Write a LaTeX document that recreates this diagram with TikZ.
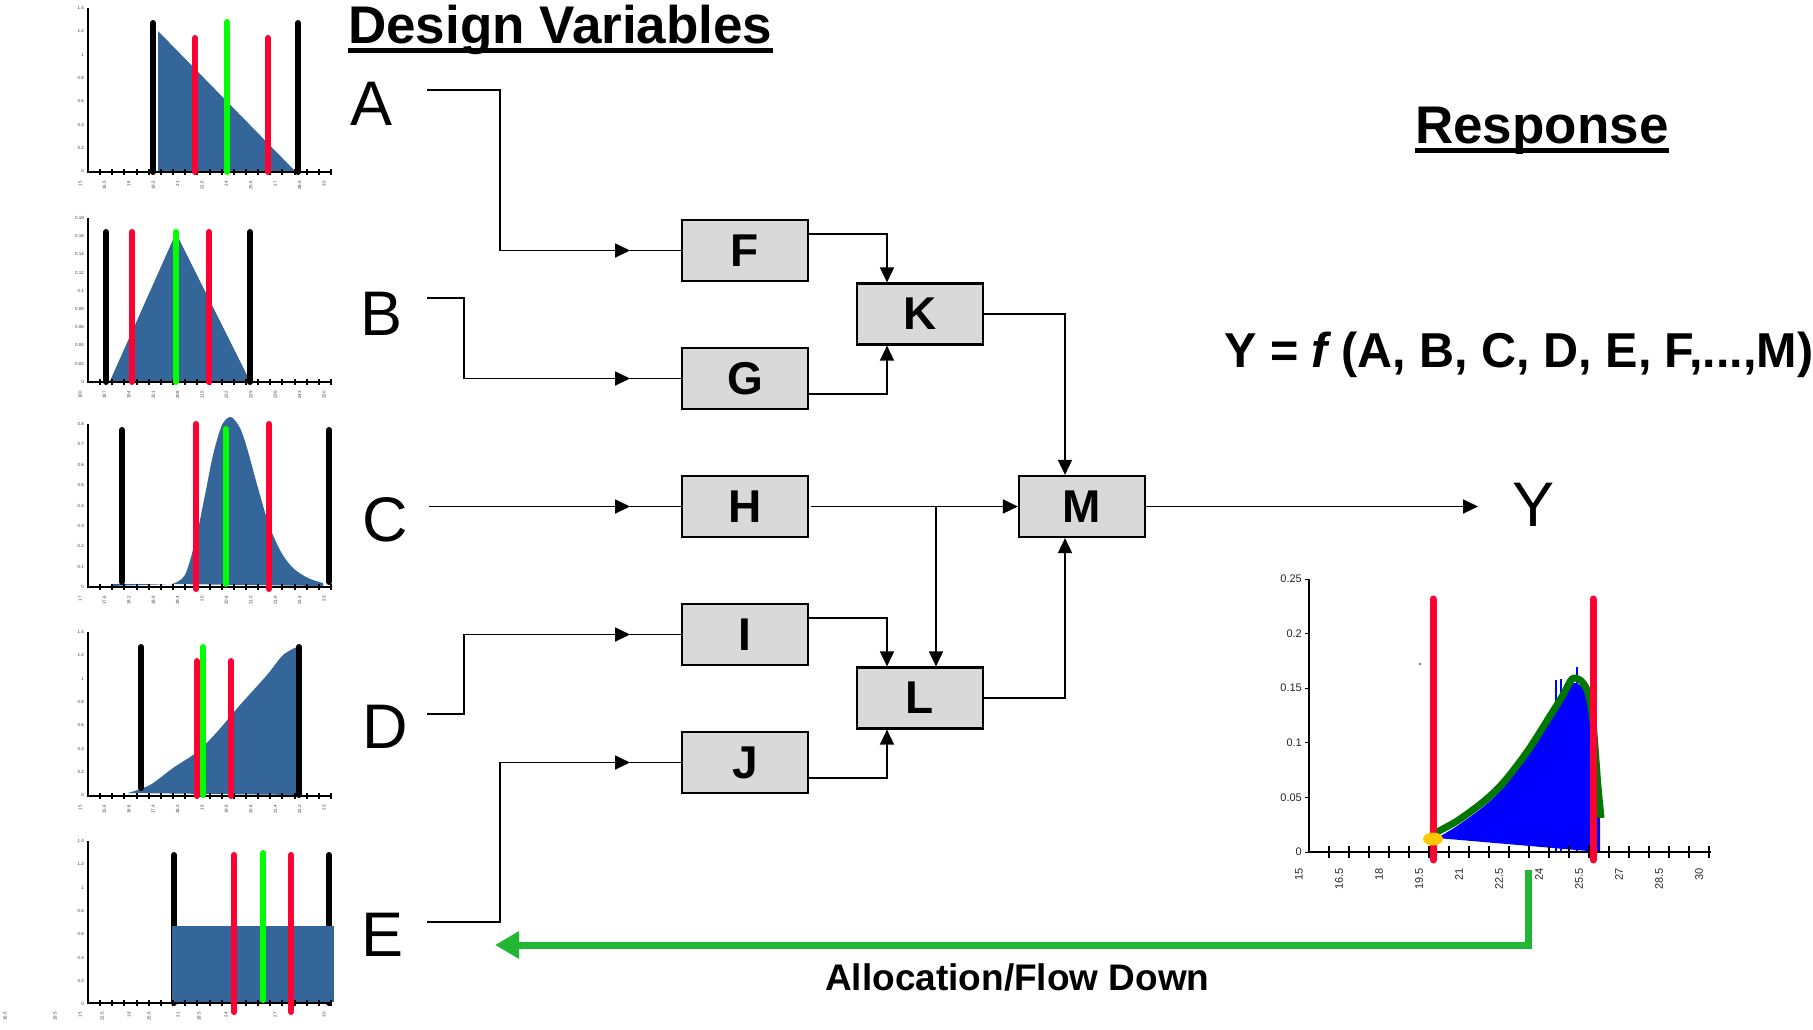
\documentclass[tikz,border=0pt]{standalone}
\usepackage{fontspec}
\setmainfont{Liberation Sans}
\usetikzlibrary{arrows.meta}
\definecolor{boxgray}{RGB}{217,217,217}
\definecolor{distblue}{RGB}{52,102,153}
\definecolor{tolred}{RGB}{255,0,51}
\definecolor{nomgreen}{RGB}{0,255,0}
\definecolor{flowgreen}{RGB}{33,183,51}
\definecolor{fitgreen}{RGB}{0,120,0}
\definecolor{histblue}{RGB}{0,0,255}
\definecolor{markyellow}{RGB}{255,200,0}
\newcommand{\fs}[1]{\fontsize{#1}{#1}\selectfont}
\newcommand{\smallaxes}[5]{%
  \draw[axisline] (88,#2) -- (88,#1) -- (331,#1);
  \foreach \i in {1,...,20} \draw[tickmark] ({88+12.15*\i},{#1-3}) -- ({88+12.15*\i},{#1+3});
  \foreach \lab [count=\j from 0] in {#3} \node[tinylab,anchor=east] at (84,{#2+\j*#4}) {\lab};
  \foreach \lab [count=\j from 0] in {#5} \node[tinylab,rotate=90,anchor=east] at ({80+24.4*\j},{#1+9}) {\lab};
}
\begin{document}
\begin{tikzpicture}[x=1pt,y=-1pt,
  block/.style={draw, line width=2.2pt, fill=boxgray, minimum width=126pt, minimum height=61pt, inner sep=0pt, font=\fs{46}\bfseries},
  varlab/.style={font=\fs{63}, inner sep=0pt, anchor=base west},
  conn/.style={line width=1.8pt},
  arr/.style={conn, -{Triangle[length=15pt,width=14pt]}},
  flow/.style={line width=7pt, draw=flowgreen, -{Triangle[length=24pt,width=26pt,fill=flowgreen]}},
  bar/.style={line width=6pt, line cap=round},
  tickmark/.style={line width=2pt},
  axisline/.style={line width=2.2pt},
  tinylab/.style={font=\fs{4.5}, inner sep=0pt, text=black!75},
  resplab/.style={font=\fs{11}, inner sep=0pt, text=black!85}
]
\useasboundingbox (0,0) rectangle (1813,1029);

% ---------- small distribution charts ----------
% chart 1
\fill[distblue] (158,31) -- (295,171) -- (158,171) -- cycle;
\smallaxes{172}{8}{1.4,1.2,1,0.8,0.6,0.4,0.2,0}{23.3}{15,16.5,18,19.5,21,22.5,24,25.5,27,28.5,30}
\draw[bar] (153,23) -- (153,172);
\draw[bar] (298,23) -- (298,172);
\draw[bar,tolred] (195,38) -- (195,172);
\draw[bar,tolred] (268,38) -- (268,172);
\draw[bar,nomgreen] (227,22) -- (227,172);

% chart 2
\fill[distblue] (110,381) -- (176,233) -- (250,381) -- cycle;
\smallaxes{382}{218}{0.18,0.16,0.14,0.12,0.1,0.08,0.06,0.04,0.02,0}{18.2}{180,187,194,201,208,215,222,229,236,243,250}
\draw[bar] (106,232) -- (106,382);
\draw[bar] (250,232) -- (250,382);
\draw[bar,tolred] (132,232) -- (132,382);
\draw[bar,tolred] (209,232) -- (209,382);
\draw[bar,nomgreen] (176,232) -- (176,382);

% chart 3
\fill[distblue] (111,586) -- (111,584) -- (172,584)
  plot[smooth] coordinates {(172,584) (185,575) (196,538) (205,495) (213,455) (222,425) (231,417) (240,428) (247,448) (258,488) (269,525) (281,552) (293,568) (308,578) (323,583)}
  -- (323,586) -- cycle;
\smallaxes{587}{424}{0.8,0.7,0.6,0.5,0.4,0.3,0.2,0.1,0}{20.4}{17,17.6,18.2,18.8,19.4,20,20.6,21.2,21.8,22.4,23}
\draw[bar] (122,430) -- (122,582);
\draw[bar] (329,430) -- (329,582);
\draw[bar,tolred] (196,424) -- (196,589);
\draw[bar,tolred] (269,424) -- (269,589);
\draw[bar,nomgreen] (226,429) -- (226,584);

% chart 4
\fill[distblue] (128,795) -- (128,793)
  plot[smooth] coordinates {(128,793) (150,785) (173,768) (197,752) (217,732) (240,705) (267,675) (283,655) (297,647)}
  -- (299,795) -- cycle;
\smallaxes{796}{632}{1.4,1.2,1,0.8,0.6,0.4,0.2,0}{23.3}{15,15.8,16.6,17.4,18.2,19,19.8,20.6,21.4,22.2,23}
\draw[bar] (141,647) -- (141,788);
\draw[bar] (299,647) -- (299,795);
\draw[bar,tolred] (197,661) -- (197,796);
\draw[bar,tolred] (231,661) -- (231,796);
\draw[bar,nomgreen] (203,647) -- (203,795);

% chart 5
\draw[bar] (174,855) -- (174,1003);
\draw[bar] (329,855) -- (329,1003);
\fill[distblue] (172,926) rectangle (334,1002);
\smallaxes{1003}{841}{1.4,1.2,1,0.8,0.6,0.4,0.2,0}{23.3}{}
\foreach \xx/\lab in {5/16.5,55/19.5,80/15,102/22.5,129/18,149/25.5,178/21,199/28.5,226/24,275/27,324/30}
  \node[tinylab,rotate=90,anchor=east] at (\xx,1012) {\lab};
\draw[bar,tolred] (234,855) -- (234,1012);
\draw[bar,tolred] (291,855) -- (291,1012);
\draw[bar,nomgreen] (263,853) -- (263,1000);

% ---------- titles ----------
\node[font=\fs{53}\bfseries, inner sep=0pt, anchor=base west] (dv) at (348,43) {Design Variables};
\draw[line width=5pt] ([yshift=-7.5pt]dv.base west) -- ([yshift=-7.5pt]dv.base east);
\node[font=\fs{53}\bfseries, inner sep=0pt, anchor=base west] (resp) at (1415,143) {Response};
\draw[line width=5pt] ([yshift=-7.5pt]resp.base west) -- ([yshift=-7.5pt]resp.base east);
\node[font=\fs{49}\bfseries, inner sep=0pt, anchor=base west] (formula) at (1224,367) {\scalebox{0.99}[1]{Y = \textit{f}\kern-4pt\ (A, B, C, D, E, F,...,M)}};

% ---------- variables ----------
\node[varlab] (A) at (350,125) {A};
\node[varlab] (B) at (360,335) {B};
\node[varlab] (C) at (362,541) {C};
\node[varlab] (D) at (362,748) {D};
\node[varlab] (E) at (361,956) {E};
\node[varlab] (Y) at (1512,526) {Y};

% ---------- blocks ----------
\node[block] (F) at (745,250.5) {F};
\node[block] (G) at (745,378.5) {G};
\node[block] (H) at (745,506.5) {H};
\node[block] (I) at (745,634.5) {I};
\node[block] (J) at (745,762.5) {J};
\node[block] (K) at (920,314) {K};
\node[block] (L) at (920,698) {L};
\node[block] (M) at (1082,506.5) {M};

% ---------- connectors ----------
\coordinate (As) at (427,90);
\coordinate (Bs) at (427,298);
\coordinate (Cs) at (429,506.5);
\coordinate (Ds) at (427,714);
\coordinate (Es) at (427,922);
\coordinate (aF) at (630,250.5);
\coordinate (aG) at (630,378.5);
\coordinate (aH) at (630,506.5);
\coordinate (aI) at (630,634.5);
\coordinate (aJ) at (630,762.5);
\draw[arr] (As) -- ++(73,0) |- (aF);
\draw[conn] (aF) -- (F);
\draw[arr] (Bs) -- ++(37,0) |- (aG);
\draw[conn] (aG) -- (G);
\draw[arr] (Cs) -- (aH);
\draw[conn] (aH) -- (H);
\draw[arr] (Ds) -- ++(37,0) |- (aI);
\draw[conn] (aI) -- (I);
\draw[arr] (Es) -- ++(73,0) |- (aJ);
\draw[conn] (aJ) -- (J);

\draw[arr] ([yshift=16.5pt]F.east) -| ([xshift=-33pt]K.north);
\draw[arr] ([yshift=-15.5pt]G.east) -| ([xshift=-33pt]K.south);
\draw[arr] (K.east) -| ([xshift=-17pt]M.north);
\draw[arr] ([xshift=2pt]H.east) -- (M.west);
\coordinate (hb) at (936,506.5);
\draw[arr] (hb) -- (hb |- L.north);
\draw[arr] ([yshift=16.5pt]I.east) -| ([xshift=-33pt]L.north);
\draw[arr] ([yshift=-15.5pt]J.east) -| ([xshift=-33pt]L.south);
\draw[arr] (L.east) -| ([xshift=-17pt]M.south);
\coordinate (Ytip) at (1478,506.5);
\draw[arr] (M.east) -- (Ytip);

% ---------- response chart ----------
\fill[histblue] (1437,852) -- (1437,838)
  plot[smooth] coordinates {(1437,838) (1457,826) (1483,807) (1503,788) (1527,757) (1550,721) (1563,700) (1572,684) (1580,685) (1587,694) (1592,716) (1595,750) (1597,790) (1599,822)}
  -- (1600,822) -- (1600,852) -- cycle;
\draw[histblue, line width=2pt] (1577,852) -- (1577,667);
\draw[histblue, line width=2pt] (1556,852) -- (1556,680);
\draw[histblue, line width=2pt] (1561,852) -- (1561,679);
\draw[histblue, line width=1.5pt] (1599,852) -- (1599,815);
\fill (1420,664) circle (0.8);
\draw[line width=2.5pt] (1309,579) -- (1309,852) -- (1711,852);
\foreach \i in {1,...,20} \draw[line width=2.5pt] ({1309+20*\i},846) -- ({1309+20*\i},858);
\foreach \lab [count=\j from 0] in {0.25,0.2,0.15,0.1,0.05,0}
  {\draw[line width=1pt] (1305,{579+54.6*\j}) -- (1309,{579+54.6*\j});
   \node[resplab,anchor=east] at (1302,{579+54.6*\j}) {\lab};}
\foreach \lab [count=\j from 0] in {15,16.5,18,19.5,21,22.5,24,25.5,27,28.5,30}
  \node[resplab,rotate=90,anchor=east] at ({1299+40*\j},868) {\lab};
\draw[fitgreen, line width=7pt] plot[smooth] coordinates {(1435,833) (1457,821) (1483,802) (1503,783) (1527,752) (1550,716) (1563,695) (1572,679) (1580,680) (1587,690) (1592,713) (1595,747) (1598,787) (1601,818)};
\draw[bar,tolred,line width=7pt] (1433,599) -- (1433,860);
\draw[bar,tolred,line width=7pt] (1593,599) -- (1593,860);
\fill[markyellow] (1433,839) ellipse (10 and 6.5);

% ---------- flow down ----------
\coordinate (gs) at (1528,870);
\coordinate (ge) at (495,945);
\draw[flow] (gs) |- (ge);
\node[font=\fs{37}\bfseries, inner sep=0pt, anchor=base west] (alloc) at (825,990) {Allocation/Flow Down};
\end{tikzpicture}
\end{document}
